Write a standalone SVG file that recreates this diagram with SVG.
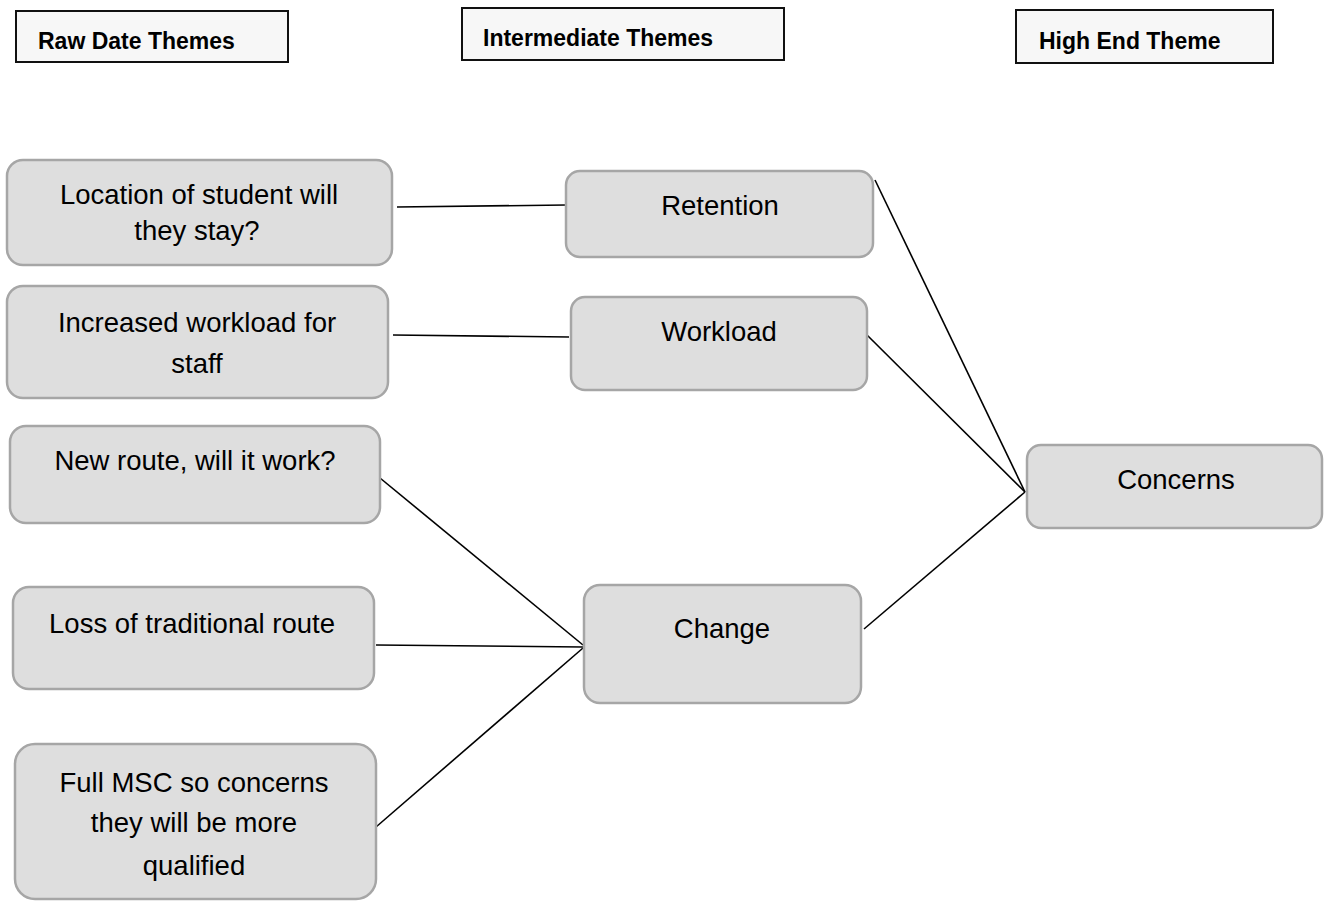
<svg xmlns="http://www.w3.org/2000/svg" width="1327" height="901" viewBox="0 0 1327 901">
<style>
.hdr{fill:#f7f7f7;stroke:#111;stroke-width:2}
.ht{font-family:"Liberation Sans",Arial,sans-serif;font-weight:bold;font-size:23px;fill:#000}
.nd{fill:#dedede;stroke:#a6a6a6;stroke-width:2.5}
.nt{font-family:"Liberation Sans",Arial,sans-serif;font-size:27.5px;fill:#000;text-anchor:middle}
.ln{stroke:#000;stroke-width:1.6;fill:none}
</style>
<rect width="1327" height="901" fill="#fff"/>
<g id="hdr-raw"><rect class="hdr" x="16" y="11" width="272" height="51"/><text class="ht" x="38" y="49">Raw Date Themes</text></g>
<g id="hdr-int"><rect class="hdr" x="462" y="8" width="322" height="52"/><text class="ht" x="483" y="46">Intermediate Themes</text></g>
<g id="hdr-high"><rect class="hdr" x="1016" y="10" width="257" height="53"/><text class="ht" x="1039" y="49">High End Theme</text></g>
<g id="connectors">
<line class="ln" x1="397" y1="207" x2="566" y2="205"/>
<line class="ln" x1="393" y1="335" x2="569" y2="337"/>
<line class="ln" x1="875" y1="180" x2="1025" y2="492"/>
<line class="ln" x1="867" y1="335" x2="1025" y2="492"/>
<line class="ln" x1="864" y1="629" x2="1025" y2="492"/>
<line class="ln" x1="380" y1="478" x2="583" y2="645"/>
<line class="ln" x1="376" y1="645" x2="583" y2="647"/>
<line class="ln" x1="376" y1="827" x2="583" y2="648"/>
</g>
<g id="n-location"><rect class="nd" x="7" y="160" width="385" height="105" rx="16"/><text class="nt" x="199" y="204">Location of student will</text><text class="nt" x="197" y="240">they stay?</text></g>
<g id="n-increased"><rect class="nd" x="7" y="286" width="381" height="112" rx="16"/><text class="nt" x="197" y="332">Increased workload for</text><text class="nt" x="197" y="373">staff</text></g>
<g id="n-newroute"><rect class="nd" x="10" y="426" width="370" height="97" rx="16"/><text class="nt" x="195" y="470">New route, will it work?</text></g>
<g id="n-loss"><rect class="nd" x="13" y="587" width="361" height="102" rx="16"/><text class="nt" x="192" y="633">Loss of traditional route</text></g>
<g id="n-fullmsc"><rect class="nd" x="15" y="744" width="361" height="155" rx="20"/><text class="nt" x="194" y="792">Full MSC so concerns</text><text class="nt" x="194" y="832">they will be more</text><text class="nt" x="194" y="875">qualified</text></g>
<g id="n-retention"><rect class="nd" x="566" y="171" width="307" height="86" rx="14"/><text class="nt" x="720" y="215">Retention</text></g>
<g id="n-workload"><rect class="nd" x="571" y="297" width="296" height="93" rx="14"/><text class="nt" x="719" y="341">Workload</text></g>
<g id="n-change"><rect class="nd" x="584" y="585" width="277" height="118" rx="16"/><text class="nt" x="722" y="638">Change</text></g>
<g id="n-concerns"><rect class="nd" x="1027" y="445" width="295" height="83" rx="14"/><text class="nt" x="1176" y="489">Concerns</text></g>
</svg>
